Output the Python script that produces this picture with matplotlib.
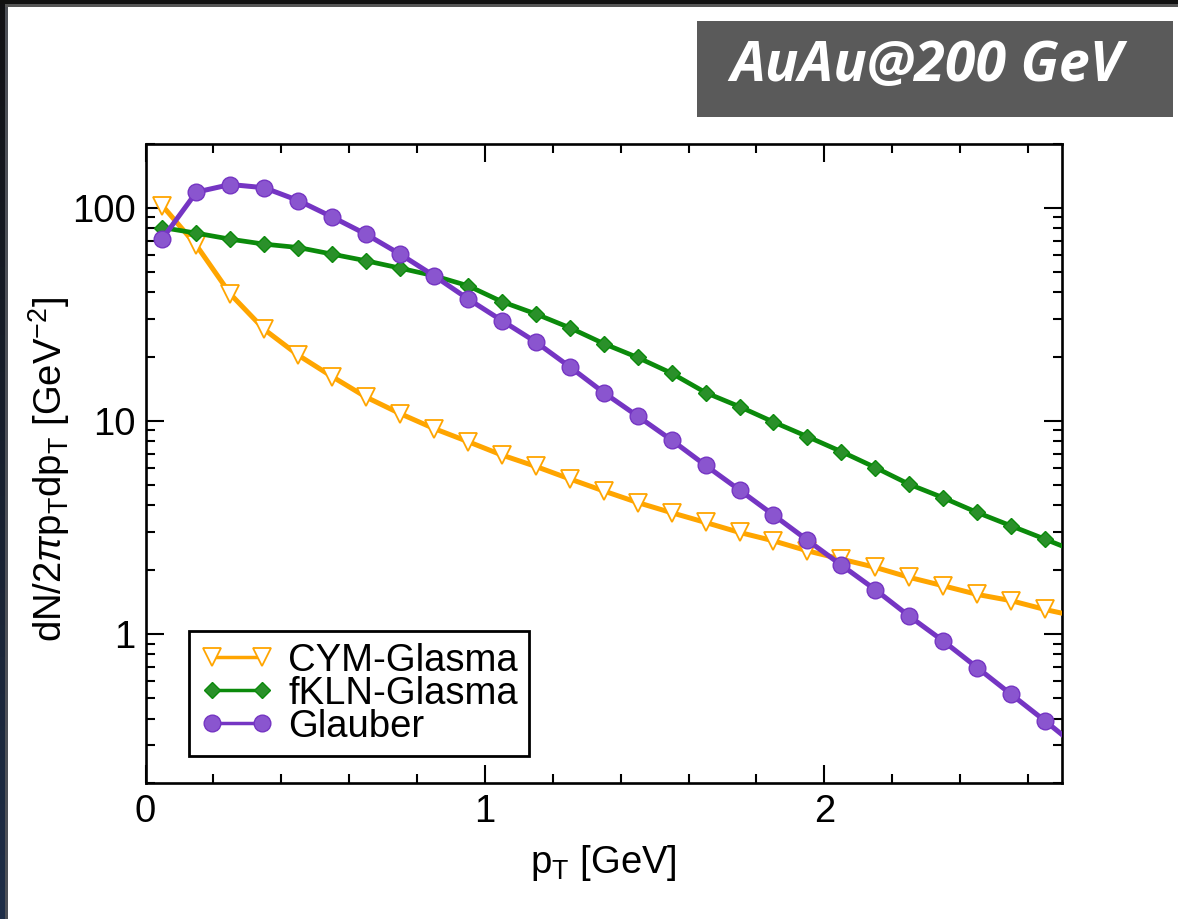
import numpy as np
import matplotlib
matplotlib.use("Agg")
import matplotlib.pyplot as plt
from matplotlib.patches import Rectangle
from matplotlib.ticker import MultipleLocator, LogLocator, FixedLocator, NullFormatter

plt.rcParams['font.family'] = ['Liberation Sans', 'DejaVu Sans']
plt.rcParams['mathtext.fontset'] = 'custom'
plt.rcParams['mathtext.rm'] = 'Liberation Sans'
plt.rcParams['mathtext.it'] = 'Liberation Sans:italic'
plt.rcParams['mathtext.bf'] = 'Liberation Sans:bold'

# ---------------- data ----------------
pt = [0.05, 0.15, 0.25, 0.35, 0.45, 0.55, 0.65, 0.75, 0.85, 0.95,
      1.05, 1.15, 1.25, 1.35, 1.45, 1.55, 1.65, 1.75, 1.85, 1.95,
      2.05, 2.15, 2.25, 2.35, 2.45, 2.55, 2.65, 2.75]

cym = [102, 66.5, 39.3, 26.8, 20.3, 16.1, 12.9, 10.8, 9.19, 7.98,
       6.9, 6.1, 5.33, 4.68, 4.13, 3.70, 3.33, 2.99, 2.73, 2.45,
       2.24, 2.05, 1.84, 1.68, 1.53, 1.43, 1.30, 1.20]

fkln = [80.6, 75.9, 71.1, 67.4, 65.0, 60.5, 56.3, 52.0, 47.9, 43.0,
        36.2, 31.7, 27.3, 23.0, 19.8, 16.7, 13.55, 11.64, 9.86, 8.42,
        7.16, 6.03, 5.03, 4.35, 3.71, 3.21, 2.78, 2.40]

glauber = [71.6, 118.3, 128.4, 124, 108, 90.4, 75.0, 60.5, 47.9, 37.3,
           29.5, 23.4, 17.9, 13.55, 10.5, 8.11, 6.17, 4.73, 3.61, 2.75,
           2.10, 1.61, 1.21, 0.925, 0.694, 0.520, 0.390, 0.29]

labels = ["CYM-Glasma", "fKLN-Glasma", "Glauber"]
xticks = [0, 1, 2]
xticklabels = ["0", "1", "2"]
yticks = [1, 10, 100]
yticklabels = ["1", "10", "100"]

W, H = 1178, 919
fig = plt.figure(figsize=(W / 100, H / 100), dpi=100)
fig.patch.set_facecolor('white')

# ---------------- slide frame / background ----------------
bg = fig.add_axes([0, 0, 1, 1], zorder=-10)
bg.set_xlim(0, W)
bg.set_ylim(H, 0)
bg.axis('off')
grad = np.linspace(0, 1, 200)[:, None]
cols = np.array([[0.07, 0.07, 0.08]]) * (1 - grad) + np.array([[0.12, 0.18, 0.28]]) * grad
bg.imshow(cols[:, None, :], extent=[0, 5, H, 0], aspect='auto', zorder=1)
bg.add_patch(Rectangle((5, 0), 3, H, color='#4d5057', lw=0, zorder=2))
bg.add_patch(Rectangle((0, 0), W, 3.5, color='#111111', lw=0, zorder=3))
bg.add_patch(Rectangle((5, 3.5), W, 3, color='#555555', lw=0, zorder=3))
# title box
bg.add_patch(Rectangle((697, 21), 476, 96, color='#5a5a5a', lw=0, zorder=4))
bg.text(927, 66, "AuAu@200 GeV", color='white', fontsize=40,
        family=['Open Sans', 'DejaVu Sans'], style='italic', weight='bold',
        ha='center', va='center', zorder=5)

# ---------------- main axes ----------------
left, right, top, bottom = 145.5, 1062, 143.5, 782.7
ax = fig.add_axes([left / W, 1 - bottom / H, (right - left) / W, (bottom - top) / H])

c_orange = '#FFA500'
c_green = '#0b8a0b'
c_purple = '#7535c3'

nm = len(pt) - 1
l1, = ax.plot(pt, cym, color=c_orange, lw=3.6, marker='v', ms=12.5,
              mfc='white', mec=c_orange, mew=1.3, markevery=list(range(nm)),
              label=labels[0], zorder=3)
l2, = ax.plot(pt, fkln, color=c_green, lw=3.4, marker='D', ms=8.4,
              mfc='#2a902a', mec=c_green, mew=1.0, markevery=list(range(nm)),
              label=labels[1], zorder=4)
l3, = ax.plot(pt, glauber, color=c_purple, lw=3.6, marker='o', ms=12,
              mfc='#8a55cf', mec=c_purple, mew=1.0, markevery=list(range(nm)),
              label=labels[2], zorder=5)

ax.set_yscale('log')
ax.set_xlim(0, 2.7)
ax.set_ylim(0.2, 200)

ax.xaxis.set_major_locator(FixedLocator(xticks))
ax.set_xticklabels(xticklabels)
ax.xaxis.set_minor_locator(MultipleLocator(0.2))
ax.yaxis.set_major_locator(FixedLocator(yticks))
ax.set_yticklabels(yticklabels)
ax.yaxis.set_minor_locator(LogLocator(base=10, subs=np.arange(2, 10)))
ax.yaxis.set_minor_formatter(NullFormatter())

for s in ax.spines.values():
    s.set_linewidth(1.9)
ax.tick_params(which='both', direction='in', top=True, right=True, width=1.5,
               labelsize=27.5, colors='black')
ax.tick_params(which='major', length=13)
ax.tick_params(which='minor', length=6.5)
ax.tick_params(axis='x', which='major', pad=8)
ax.tick_params(axis='y', which='major', pad=7)

ax.set_xlabel(r'p$_\mathrm{T}$ [GeV]', fontsize=27.5)
ax.xaxis.set_label_coords(0.5, -0.095)
ax.set_ylabel(r'dN/2$\pi$p$_\mathrm{T}$dp$_\mathrm{T}$ [GeV$^{-2}$]', fontsize=27.5)
ax.yaxis.set_label_coords(-0.08, 0.49)

leg = ax.legend(loc='lower left', bbox_to_anchor=(0.0475, 0.0418), borderaxespad=0,
                fontsize=27.5, frameon=True, fancybox=False, edgecolor='black',
                framealpha=1, numpoints=2, handlelength=1.9, handletextpad=0.4,
                labelspacing=-0.08, borderpad=0.3)
leg.get_frame().set_linewidth(2.0)
for h in leg.get_lines():
    h.set_linewidth(2.5)

fig.savefig('out.png', dpi=100)
